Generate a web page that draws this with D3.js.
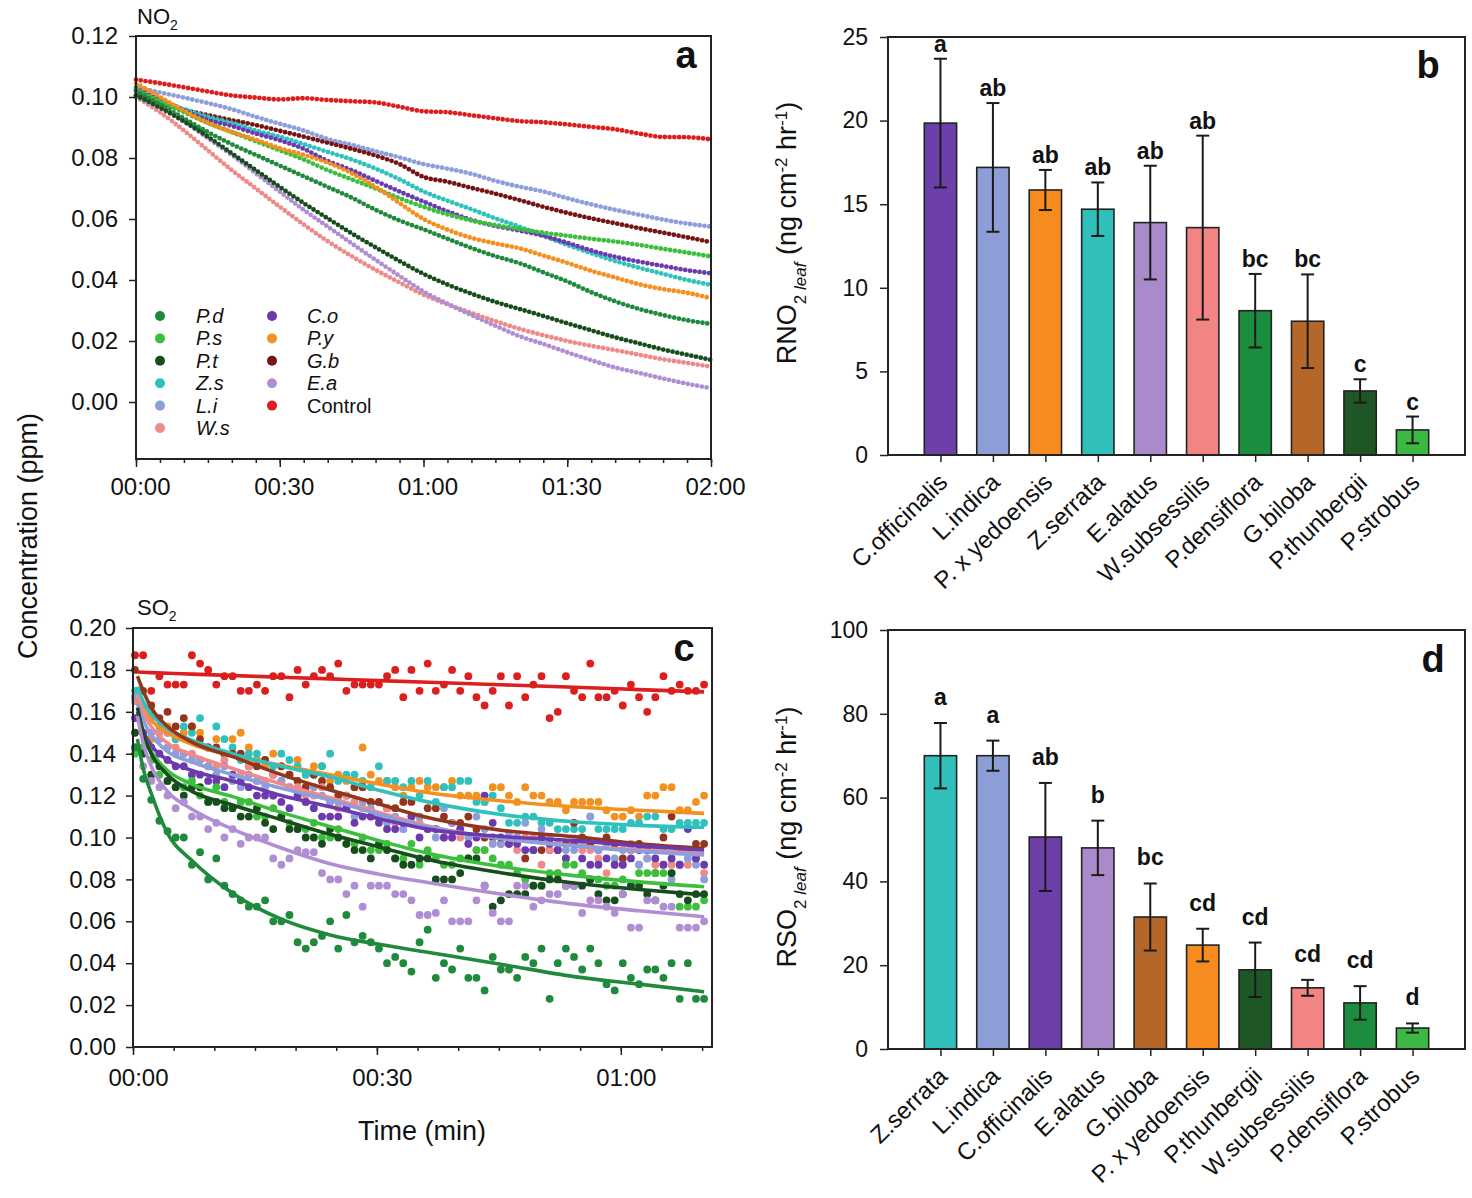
<!DOCTYPE html>
<html><head><meta charset="utf-8">
<script src="https://cdn.jsdelivr.net/npm/d3@7"></script>
<style>
body{margin:0;background:#fff}
svg{display:block}
text{font-family:"Liberation Sans",Arial,sans-serif;fill:#111}
</style>
</head><body>
<svg id="chart" width="1472" height="1198"></svg>
<script>
// ---------- Panel a : NO2 concentration (ppm), every 5 min ----------
const timeA = [0,5,10,15,20,25,30,35,40,45,50,55,60,65,70,75,80,85,90,95,100,105,110,115,120];
const seriesNames = ["P.d","P.s","P.t","Z.s","L.i","W.s","C.o","P.y","G.b","E.a","Control"];
const no2_Pd = [.1020,.0975,.0930,.0885,.0845,.0810,.0775,.0740,.0705,.0670,.0630,.0595,.0566,.0535,.0505,.0478,.0455,.0425,.0395,.0360,.0330,.0305,.0285,.0268,.0256];
const no2_Ps = [.1025,.0985,.0950,.0915,.0885,.0855,.0825,.0795,.0760,.0730,.0700,.0668,.0640,.0615,.0595,.0580,.0567,.0555,.0545,.0535,.0526,.0515,.0502,.0490,.0477];
const no2_Pt = [.1005,.0965,.0920,.0870,.0815,.0760,.0705,.0652,.0602,.0553,.0507,.0462,.0420,.0385,.0355,.0328,.0305,.0282,.0258,.0235,.0212,.0192,.0172,.0155,.0138];
const no2_Zs = [.1020,.0990,.0960,.0935,.0915,.0890,.0870,.0845,.0820,.0795,.0765,.0730,.0690,.0660,.0632,.0602,.0575,.0545,.0515,.0488,.0462,.0440,.0420,.0400,.0384];
const no2_Li = [.1032,.1015,.0998,.0980,.0960,.0935,.0912,.0890,.0862,.0843,.0822,.0802,.0780,.0765,.0748,.0725,.0706,.0690,.0668,.0648,.0630,.0614,.0598,.0585,.0575];
const no2_Ws = [.1000,.0950,.0890,.0825,.0760,.0700,.0640,.0582,.0527,.0478,.0433,.0392,.0352,.0320,.0292,.0265,.0240,.0219,.0200,.0184,.0170,.0155,.0140,.0128,.0116];
const no2_Co = [.1028,.0990,.0955,.0925,.0905,.0880,.0858,.0830,.0790,.0760,.0725,.0690,.0657,.0625,.0597,.0577,.0562,.0545,.0522,.0497,.0476,.0460,.0446,.0432,.0422];
const no2_Py = [.1045,.1000,.0955,.0915,.0885,.0860,.0832,.0810,.0785,.0750,.0705,.0652,.0600,.0565,.0538,.0520,.0504,.0480,.0456,.0430,.0408,.0386,.0370,.0358,.0340];
const no2_Gb = [.1005,.0982,.0958,.0940,.0924,.0908,.0889,.0870,.0850,.0830,.0808,.0780,.0738,.0722,.0702,.0683,.0662,.0640,.0620,.0602,.0586,.0570,.0555,.0540,.0524];
const no2_Ea = [.1000,.0965,.0920,.0865,.0810,.0750,.0690,.0630,.0575,.0520,.0466,.0413,.0362,.0322,.0285,.0250,.0216,.0190,.0163,.0137,.0113,.0095,.0077,.0060,.0045];
const no2_Control = [.1057,.1045,.1032,.1018,.1005,.0998,.0992,.0996,.0990,.0986,.0982,.0968,.0953,.0950,.0940,.0930,.0921,.0917,.0910,.0902,.0894,.0880,.0869,.0868,.0861];
const no2Ticks = [0,.02,.04,.06,.08,.10,.12];
const timeTicksA = [0,30,60,90,120];

// ---------- Panel c : SO2 concentration (ppm), one reading per minute ----------
const timeC = d3.range(0,71,1);
const so2_Control = [.187,.187,.170,.177,.173,.173,.173,.187,.183,.180, .173,.177,.177,.170,.170,.173,.170,.177,.177,.167, .180,.173,.177,.180,.177,.183,.170,.173,.173,.173, .173,.177,.180,.167,.180,.170,.183,.170,.173,.180, .170,.177,.167,.163,.170,.177,.163,.177,.167,.173, .177,.157,.160,.177,.170,.167,.183,.167,.167,.170, .163,.173,.167,.160,.167,.177,.170,.173,.170,.170, .173];
const so2_Pd = [.143,.128,.118,.108,.103,.100,.100,.087,.093,.080, .090,.077,.073,.070,.067,.067,.070,.060,.060,.063, .050,.047,.050,.053,.060,.047,.063,.050,.053,.050, .047,.040,.043,.040,.036,.050,.056,.033,.040,.037, .047,.033,.033,.027,.043,.037,.037,.033,.043,.040, .047,.023,.040,.047,.043,.037,.047,.040,.030,.027, .040,.033,.030,.037,.037,.033,.040,.023,.040,.023, .023];
const so2_Py = [.167,.160,.147,.150,.153,.147,.150,.153,.150,.143, .147,.140,.147,.150,.143,.137,.134,.140,.134,.130, .137,.130,.134,.134,.127,.130,.127,.124,.143,.130, .127,.127,.124,.120,.124,.127,.124,.124,.124,.127, .120,.120,.120,.117,.124,.124,.120,.117,.124,.120, .120,.117,.117,.113,.117,.117,.117,.117,.113,.110, .110,.113,.110,.120,.120,.124,.124,.113,.113,.117, .120];
const so2_Zs = [.170,.163,.160,.153,.150,.147,.153,.150,.157,.143, .153,.147,.143,.137,.140,.140,.137,.134,.140,.137, .134,.130,.130,.134,.140,.127,.130,.130,.127,.124, .134,.127,.127,.124,.127,.120,.127,.117,.124,.124, .127,.127,.117,.117,.120,.114,.107,.107,.110,.110, .107,.107,.104,.104,.104,.104,.110,.104,.104,.104, .104,.107,.107,.110,.110,.104,.104,.107,.107,.107, .107];
const so2_Gb = [.180,.170,.163,.157,.160,.153,.157,.153,.147,.143, .143,.140,.140,.140,.134,.134,.137,.130,.134,.130, .127,.124,.130,.127,.124,.120,.120,.124,.124,.117, .117,.114,.114,.117,.117,.110,.114,.114,.110,.107, .107,.110,.104,.100,.100,.097,.097,.100,.090,.094, .094,.094,.094,.097,.107,.100,.097,.094,.100,.097, .090,.094,.097,.094,.083,.100,.110,.094,.094,.097, .097];
const so2_Ws = [.165,.160,.157,.150,.150,.143,.140,.140,.137,.134, .134,.137,.130,.130,.134,.127,.127,.130,.127,.124, .124,.120,.120,.124,.117,.114,.120,.117,.114,.110, .110,.114,.107,.104,.110,.107,.104,.104,.100,.100, .100,.097,.094,.094,.097,.097,.100,.094,.100,.100, .087,.094,.083,.090,.097,.094,.094,.090,.083,.087, .087,.094,.087,.090,.087,.087,.087,.087,.087,.090, .083];
const so2_Li = [.167,.157,.150,.147,.143,.140,.140,.137,.137,.134, .130,.134,.127,.124,.130,.127,.124,.120,.127,.124, .120,.117,.124,.120,.117,.117,.114,.110,.117,.114, .110,.107,.110,.104,.107,.110,.104,.100,.114,.107, .104,.100,.110,.104,.097,.097,.102,.100,.107,.094, .104,.100,.097,.094,.094,.097,.110,.094,.097,.090, .094,.097,.087,.090,.094,.094,.080,.087,.090,.087, .080];
const so2_Co = [.157,.150,.143,.140,.137,.134,.134,.130,.130,.127, .127,.124,.130,.127,.124,.120,.120,.120,.117,.114, .120,.117,.114,.110,.110,.110,.114,.107,.110,.110, .107,.104,.104,.107,.110,.100,.104,.104,.100,.100, .104,.097,.100,.120,.107,.100,.097,.097,.094,.094, .100,.097,.094,.090,.097,.090,.087,.087,.090,.087, .087,.090,.094,.094,.090,.087,.090,.087,.104,.090, .087];
const so2_Ps = [.140,.143,.137,.130,.127,.124,.124,.127,.120,.117, .124,.117,.114,.117,.117,.110,.110,.114,.110,.107, .104,.104,.107,.100,.100,.104,.097,.097,.100,.094, .094,.097,.090,.090,.097,.087,.094,.090,.087,.087, .090,.090,.094,.094,.090,.087,.087,.083,.080,.077, .077,.083,.083,.087,.087,.083,.080,.080,.077,.077, .080,.077,.083,.083,.083,.083,.083,.067,.067,.067, .070];
const so2_Pt = [.150,.140,.130,.134,.127,.124,.120,.124,.124,.117, .117,.114,.114,.110,.110,.114,.107,.104,.110,.104, .104,.100,.100,.097,.104,.100,.097,.094,.094,.090, .097,.094,.090,.087,.087,.090,.090,.080,.080,.080, .083,.090,.090,.077,.067,.070,.073,.073,.073,.077, .077,.080,.080,.077,.077,.077,.080,.073,.070,.070, .073,.077,.077,.073,.070,.077,.083,.073,.070,.073, .073];
const so2_Ea = [.143,.134,.127,.124,.120,.114,.117,.110,.110,.104, .107,.100,.104,.097,.100,.100,.100,.090,.087,.090, .094,.093,.093,.083,.080,.080,.073,.077,.067,.077, .077,.077,.073,.073,.070,.063,.063,.064,.070,.060, .060,.060,.070,.077,.064,.060,.060,.077,.077,.067, .070,.073,.073,.077,.077,.064,.070,.070,.067,.064, .073,.057,.057,.070,.070,.067,.067,.057,.057,.057, .060];
// fitted curves, read at these times (min)
const fitT = [0.3,1,2,4,7,12,18,24,30,36,45,54,62,70];
const fit_Control = [.179,.1789,.1787,.1784,.178,.1773,.1765,.1757,.1749,.1741,.1729,.1717,.1706,.1695];
const fit_Py = [.166,.161,.156,.150,.1445,.139,.1345,.130,.1255,.1215,.1175,.1147,.113,.1115];
const fit_Zs = [.172,.165,.159,.152,.1465,.140,.134,.129,.1225,.117,.111,.1075,.1058,.1049];
const fit_Gb = [.177,.170,.162,.153,.1455,.1386,.130,.1227,.116,.1095,.1035,.1004,.097,.0948];
const fit_Ws = [.168,.160,.153,.145,.1395,.133,.1255,.119,.112,.1055,.0995,.0962,.094,.0925];
const fit_Li = [.164,.156,.149,.141,.136,.130,.1235,.1179,.111,.105,.0995,.096,.0935,.0917];
const fit_Co = [.160,.151,.144,.137,.132,.127,.120,.1147,.109,.104,.1005,.0985,.096,.094];
const fit_Ps = [.158,.149,.141,.132,.1255,.1195,.112,.1052,.0985,.0925,.0862,.0818,.0788,.0765];
const fit_Pt = [.162,.150,.140,.130,.122,.1155,.1085,.1015,.0955,.0895,.0832,.0783,.0752,.0726];
const fit_Ea = [.158,.145,.134,.122,.1135,.104,.095,.0875,.0825,.0785,.073,.0682,.065,.0622];
const fit_Pd = [.147,.133,.121,.102,.089,.0734,.061,.0535,.049,.0452,.0395,.0336,.030,.0264];
const so2Ticks = [0,.02,.04,.06,.08,.10,.12,.14,.16,.18,.20];
const timeTicksC = [0,30,60];

// ---------- Panel b : RNO2 leaf ----------
const catB = ["C.officinalis","L.indica","P. x yedoensis","Z.serrata","E.alatus","W.subsessilis","P.densiflora","G.biloba","P.thunbergii","P.strobus"];
const rno2 = [19.85,17.2,15.85,14.7,13.9,13.6,8.63,8.0,3.83,1.5];
const rno2Err = [3.85,3.85,1.2,1.6,3.4,5.5,2.2,2.8,0.7,0.8];
const lettersB = ["a","ab","ab","ab","ab","ab","bc","bc","c","c"];
const ticksB = [0,5,10,15,20,25];

// ---------- Panel d : RSO2 leaf ----------
const catD = ["Z.serrata","L.indica","C.officinalis","E.alatus","G.biloba","P. x yedoensis","P.thunbergii","W.subsessilis","P.densiflora","P.strobus"];
const rso2 = [70,70,50.6,48,31.5,24.8,18.9,14.6,11,5];
const rso2Err = [7.8,3.6,12.9,6.5,8,3.9,6.5,1.9,4,1.1];
const lettersD = ["a","a","ab","b","bc","cd","cd","cd","cd","d"];
const ticksD = [0,20,40,60,80,100];

// ---------- styles ----------
const colA = {"P.d":"#1f8a3b","P.s":"#3cbf3c","P.t":"#174d1c","Z.s":"#2fc2bd","L.i":"#8c9edb","W.s":"#ee8a8a",
  "C.o":"#6a3aae","P.y":"#f4901f","G.b":"#761414","E.a":"#b18ed3","Control":"#dc1e1e"};
const colC = Object.assign({}, colA, {"G.b":"#93351c"});
const colSp = {"C.officinalis":"#6c40a8","L.indica":"#8d9dd6","P. x yedoensis":"#f68c1f","Z.serrata":"#30bfba",
  "E.alatus":"#a98bcc","W.subsessilis":"#f28484","P.densiflora":"#1c8c3e","G.biloba":"#b5672a",
  "P.thunbergii":"#1e5626","P.strobus":"#3cb944"};

const no2Data = {"P.d":no2_Pd,"P.s":no2_Ps,"P.t":no2_Pt,"Z.s":no2_Zs,"L.i":no2_Li,"W.s":no2_Ws,"C.o":no2_Co,"P.y":no2_Py,"G.b":no2_Gb,"E.a":no2_Ea,"Control":no2_Control};
const so2Pts = {"P.d":so2_Pd,"P.s":so2_Ps,"P.t":so2_Pt,"Z.s":so2_Zs,"L.i":so2_Li,"W.s":so2_Ws,"C.o":so2_Co,"P.y":so2_Py,"G.b":so2_Gb,"E.a":so2_Ea,"Control":so2_Control};
const so2Fit = {"P.d":fit_Pd,"P.s":fit_Ps,"P.t":fit_Pt,"Z.s":fit_Zs,"L.i":fit_Li,"W.s":fit_Ws,"C.o":fit_Co,"P.y":fit_Py,"G.b":fit_Gb,"E.a":fit_Ea,"Control":fit_Control};

const svg = d3.select("#chart");
const FONT = '"Liberation Sans", Arial, sans-serif';
const fmtTime = t => String(Math.floor(t/60)).padStart(2,"0")+":"+String(t%60).padStart(2,"0");

function styleAxis(g, size){
  g.select(".domain").remove();
  g.selectAll(".tick line").attr("stroke","#222").attr("stroke-width",1.5);
  g.selectAll(".tick text").attr("font-family",FONT).attr("font-size",size).attr("fill","#111");
}
function frame(x0,y0,x1,y1){
  svg.append("rect").attr("x",x0).attr("y",y0).attr("width",x1-x0).attr("height",y1-y0)
    .attr("fill","none").attr("stroke","#222").attr("stroke-width",2);
}
function panelLetter(x,y,s){
  svg.append("text").attr("x",x).attr("y",y).attr("text-anchor","middle")
    .attr("font-family",'"Liberation Serif","Times New Roman",serif').attr("font-weight","bold")
    .attr("font-size",38).text(s);
}

// ================= Panel a =================
{
  const L=136,R=711,T=36,B=459;
  const x = d3.scaleLinear().domain([0,120]).range([L,R]);
  const y = d3.scaleLinear().domain([0,0.12]).range([402,36]);
  const line = d3.line().x((d,i)=>x(timeA[i])).y(d=>y(d)).curve(d3.curveMonotoneX);
  const order = ["Control","L.i","G.b","Z.s","C.o","P.s","P.y","P.d","W.s","E.a","P.t"];
  order.forEach(k=>{
    svg.append("path").attr("d",line(no2Data[k])).attr("fill","none")
      .attr("stroke",colA[k]).attr("stroke-width",4.8).attr("stroke-linecap","round")
      .attr("stroke-dasharray","0 4.8");
  });
  const gy = svg.append("g").attr("transform",`translate(${L},0)`)
    .call(d3.axisLeft(y).tickValues(no2Ticks).tickFormat(d3.format(".2f")).tickSize(7).tickPadding(11));
  styleAxis(gy,24);
  const gx = svg.append("g").attr("transform",`translate(0,${B})`)
    .call(d3.axisBottom(x).tickValues(timeTicksA).tickFormat(fmtTime).tickSize(8).tickPadding(11));
  styleAxis(gx,24);
  gx.selectAll(".tick text").attr("dx",4);
  const gm = svg.append("g").attr("transform",`translate(0,${B})`)
    .call(d3.axisBottom(x).tickValues(d3.range(0,121,5)).tickFormat("").tickSize(4));
  styleAxis(gm,20);
  frame(L,T,R,B);
  panelLetter(686,68,"a");
  const t = svg.append("text").attr("x",137).attr("y",24).attr("font-size",22);
  t.append("tspan").text("NO");
  t.append("tspan").attr("font-size",14).attr("dy",6).text("2");
  // legend
  const col1 = ["P.d","P.s","P.t","Z.s","L.i","W.s"], col2=["C.o","P.y","G.b","E.a","Control"];
  [[col1,160,196],[col2,272,307]].forEach(([arr,mx,tx])=>{
    arr.forEach((k,i)=>{
      const yy = 316 + i*22.4;
      svg.append("circle").attr("cx",mx).attr("cy",yy).attr("r",5).attr("fill",colA[k]);
      svg.append("text").attr("x",tx).attr("y",yy+7).attr("font-size",20)
        .attr("font-style",k==="Control"?"normal":"italic").text(k);
    });
  });
}

// ================= Panel c =================
{
  const L=133,R=712,T=628,B=1047;
  const x = d3.scaleLinear().domain([0,70]).range([L,L+70*8.13]);
  const y = d3.scaleLinear().domain([0,0.2]).range([B,T]);
  const order = ["Control","P.y","Z.s","G.b","W.s","L.i","C.o","P.s","P.t","E.a","P.d"];
  order.forEach(k=>{
    svg.append("g").selectAll("circle").data(so2Pts[k]).join("circle")
      .attr("cx",(d,i)=>x(timeC[i])+2).attr("cy",d=>y(d)).attr("r",3.9).attr("fill",colC[k]);
  });
  const line = d3.line().x((d,i)=>x(fitT[i])+2).y(d=>y(d)).curve(d3.curveMonotoneX);
  order.forEach(k=>{
    svg.append("path").attr("d",line(so2Fit[k])).attr("fill","none")
      .attr("stroke",colC[k]).attr("stroke-width",3.6);
  });
  const gy = svg.append("g").attr("transform",`translate(${L},0)`)
    .call(d3.axisLeft(y).tickValues(so2Ticks).tickFormat(d3.format(".2f")).tickSize(7).tickPadding(10));
  styleAxis(gy,24);
  const gx = svg.append("g").attr("transform",`translate(0,${B})`)
    .call(d3.axisBottom(x).tickValues(timeTicksC).tickFormat(fmtTime).tickSize(8).tickPadding(14));
  styleAxis(gx,24);
  gx.selectAll(".tick text").attr("dx",5);
  const gm = svg.append("g").attr("transform",`translate(0,${B})`)
    .call(d3.axisBottom(x).tickValues(d3.range(0,71,5)).tickFormat("").tickSize(4));
  styleAxis(gm,20);
  frame(L,T,R,B);
  panelLetter(684,661,"c");
  const t = svg.append("text").attr("x",137).attr("y",615).attr("font-size",22);
  t.append("tspan").text("SO");
  t.append("tspan").attr("font-size",14).attr("dy",6).text("2");
  svg.append("text").attr("x",422).attr("y",1140).attr("text-anchor","middle").attr("font-size",27).text("Time (min)");
}
// shared y title
svg.append("text").attr("transform","translate(37,536) rotate(-90)").attr("text-anchor","middle")
  .attr("font-size",27).text("Concentration (ppm)");

// ================= Bar panels =================
function barPanel(cats, vals, errs, letters, ticks, T, B, ymax, letterX, letterY, letterStr, titleGas, titleY, letterGap){
  const L=888,R=1465;
  const x = d3.scalePoint().domain(cats).range([L,R]).padding(1);
  const y = d3.scaleLinear().domain([0,ymax]).range([B,T]);
  const bw = x.step()*0.616;
  const g = svg.append("g");
  g.selectAll("rect.bar").data(cats).join("rect").attr("class","bar")
    .attr("x",d=>x(d)-bw/2).attr("y",(d,i)=>y(vals[i])).attr("width",bw)
    .attr("height",(d,i)=>B-y(vals[i])).attr("fill",d=>colSp[d]).attr("stroke","#222").attr("stroke-width",1.6);
  cats.forEach((c,i)=>{
    const cx=x(c), hi=y(vals[i]+errs[i]), lo=y(vals[i]-errs[i]);
    g.append("line").attr("x1",cx).attr("x2",cx).attr("y1",hi).attr("y2",lo).attr("stroke","#1a1a1a").attr("stroke-width",2);
    [hi,lo].forEach(yy=>g.append("line").attr("x1",cx-6.5).attr("x2",cx+6.5).attr("y1",yy).attr("y2",yy).attr("stroke","#1a1a1a").attr("stroke-width",2));
    g.append("text").attr("x",cx).attr("y",hi-letterGap).attr("text-anchor","middle").attr("font-size",23).attr("font-weight","bold").text(letters[i]);
  });
  const gy = svg.append("g").attr("transform",`translate(${L},0)`)
    .call(d3.axisLeft(y).tickValues(ticks).tickSize(8).tickPadding(12));
  styleAxis(gy,23);
  const gx = svg.append("g").attr("transform",`translate(0,${B})`)
    .call(d3.axisBottom(x).tickSize(7).tickFormat(""));
  styleAxis(gx,21);
  cats.forEach(c=>{
    svg.append("text").attr("transform",`translate(${x(c)-4},${B+16}) rotate(-44)`)
      .attr("text-anchor","end").attr("dy","0.75em").attr("font-size",24).text(c);
  });
  frame(L,T,R,B);
  panelLetter(letterX,letterY,letterStr);
  const t = svg.append("text").attr("transform",`translate(796,${titleY}) rotate(-90)`).attr("text-anchor","middle").attr("font-size",27);
  t.append("tspan").text("R"+titleGas);
  t.append("tspan").attr("baseline-shift","sub").attr("font-size",17).text("2 ");
  t.append("tspan").attr("baseline-shift","sub").attr("font-size",17).attr("font-style","italic").text("leaf");
  t.append("tspan").text(" (ng cm");
  t.append("tspan").attr("baseline-shift","super").attr("font-size",17).text("-2");
  t.append("tspan").text(" hr");
  t.append("tspan").attr("baseline-shift","super").attr("font-size",17).text("-1");
  t.append("tspan").text(")");
}
barPanel(catB, rno2, rno2Err, lettersB, ticksB, 37, 455, 25, 1428, 78, "b", "NO", 233, 7);
barPanel(catD, rso2, rso2Err, lettersD, ticksD, 630, 1049, 100, 1433, 672, "d", "SO", 837, 18);
</script>
</body></html>
